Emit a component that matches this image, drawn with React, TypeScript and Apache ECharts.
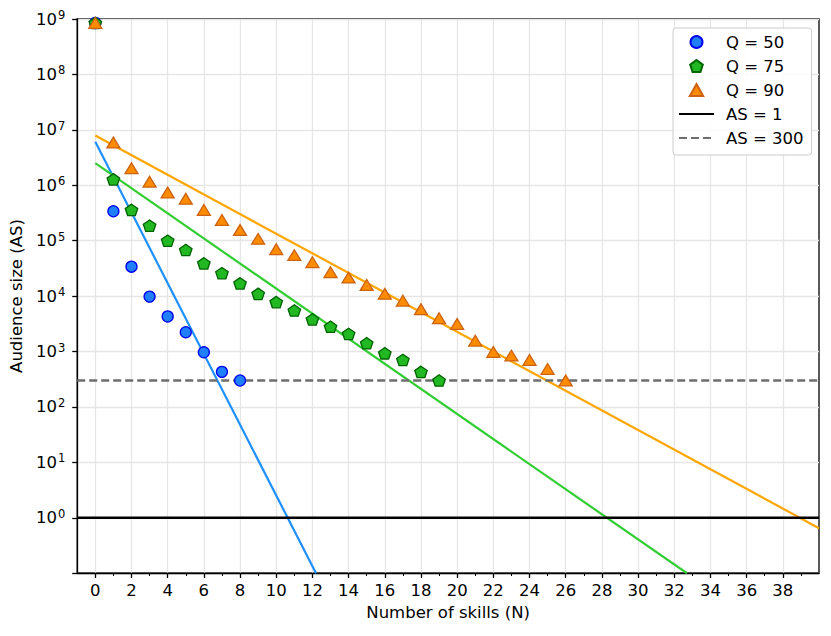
import React, { useEffect, useRef } from "react";
import * as echarts from "echarts";

// ---- data ----
const skillsQ50 = [0, 1, 2, 3, 4, 5, 6, 7, 8];
const sizesQ50 = [8.5e8, 3.4e5, 3.4e4, 9.8e3, 4.3e3, 2.23e3, 970, 430, 300];

const skillsQ75 = [0, 1, 2, 3, 4, 5, 6, 7, 8, 9, 10, 11, 12, 13, 14, 15, 16, 17, 18, 19];
const sizesQ75 = [
  8.5e8, 1.28e6, 3.6e5, 1.87e5, 1.0e5, 6.8e4, 3.9e4, 2.6e4, 1.7e4, 1.1e4, 7.8e3, 5.5e3,
  3.8e3, 2.8e3, 2.08e3, 1.41e3, 930, 706, 430, 300,
];

const skillsQ90 = [
  0, 1, 2, 3, 4, 5, 6, 7, 8, 9, 10, 11, 12, 13, 14, 15, 16, 17, 18, 19, 20, 21, 22, 23, 24, 25, 26,
];
const sizesQ90 = [
  8.5e8, 5.9e6, 2.03e6, 1.16e6, 7.4e5, 5.7e5, 3.6e5, 2.37e5, 1.56e5, 1.08e5, 7.0e4, 5.5e4,
  4.1e4, 2.7e4, 2.16e4, 1.59e4, 1.1e4, 8.3e3, 5.8e3, 4.0e3, 3.15e3, 1.57e3, 986, 845, 706, 486,
  300,
];

// fitted exponential lines: end points [N, AS]
const fitQ50 = [[0, 6.1e6], [12.2, 0.1]];
const fitQ75 = [[0, 2.5e6], [32.7, 0.1]];
const fitQ90 = [[0, 7.9e6], [40, 0.65]];

// reference levels
const asLevels = [1, 300];
const asNames = ["AS = 1", "AS = 300"];

// axes
const xRange = [-1, 40];
const yRange = [0.101, 1e9];
const xTickValues = [0, 2, 4, 6, 8, 10, 12, 14, 16, 18, 20, 22, 24, 26, 28, 30, 32, 34, 36, 38];
const xMinorTicks = [1, 3, 5, 7, 9, 11, 13, 15, 17, 19, 21, 23, 25, 27, 29, 31, 33, 35, 37, 39];

const FONT = "DejaVu Sans";
const FS = 16.5;
const PENTAGON = "path://M0,-1L0.951,-0.309L0.588,0.809L-0.588,0.809L-0.951,-0.309Z";
const TRIANGLE = "path://M0,-1L1,0.8L-1,0.8Z";

export default function App() {
  const ref = useRef<HTMLDivElement>(null);

  useEffect(() => {
    if (!ref.current) return;
    const chart = echarts.init(ref.current, undefined, { renderer: "svg" });

    const pts = (xs: number[], ys: number[]) => xs.map((x, i) => [x, ys[i]]);
    const fitLine = (name: string, data: number[][], color: string) => ({
      name,
      type: "line",
      data,
      symbol: "none",
      clip: true,
      silent: true,
      z: 2,
      lineStyle: { color, width: 2.2 },
    });

    const option: any = {
      animation: false,
      textStyle: { fontFamily: FONT },
      grid: {
        left: 76,
        right: 12,
        top: 19,
        bottom: 63,
        show: true,
        borderColor: "#000",
        borderWidth: 1.3,
        backgroundColor: "transparent",
      },
      legend: {
        orient: "vertical",
        left: 673,
        top: 28,
        padding: [5, 8, 8, 5],
        itemWidth: 35,
        itemHeight: 12,
        itemGap: 6,
        borderColor: "#cccccc",
        borderWidth: 1,
        borderRadius: 3,
        backgroundColor: "rgba(255,255,255,0.85)",
        textStyle: {
          fontFamily: FONT,
          fontSize: FS,
          color: "#000",
          lineHeight: 18,
          padding: [0, 0, 0, 7],
        },
        data: [
          { name: "Q = 50", icon: "circle" },
          { name: "Q = 75", icon: PENTAGON },
          { name: "Q = 90", icon: TRIANGLE },
          { name: asNames[0], itemStyle: { opacity: 0 } },
          { name: asNames[1], itemStyle: { opacity: 0 } },
        ],
      },
      xAxis: [
        {
          type: "value",
          min: xRange[0],
          max: xRange[1],
          position: "bottom",
          name: "Number of skills (N)",
          nameLocation: "middle",
          nameGap: 30,
          nameTextStyle: { fontFamily: FONT, fontSize: FS, color: "#000" },
          axisLine: { show: true, onZero: false, lineStyle: { color: "#000", width: 1.3 } },
          axisTick: {
            show: true,
            customValues: xTickValues,
            length: 5,
            lineStyle: { color: "#000", width: 1.3 },
          },
          axisLabel: {
            customValues: xTickValues,
            margin: 9,
            fontFamily: FONT,
            fontSize: FS,
            color: "#000",
          },
          splitLine: { show: true, lineStyle: { color: "#e6e6e6", width: 1.3 } },
        },
        {
          type: "value",
          min: xRange[0],
          max: xRange[1],
          position: "bottom",
          axisLine: { show: false, onZero: false },
          axisTick: {
            show: true,
            customValues: xMinorTicks,
            length: 3,
            lineStyle: { color: "#000", width: 1 },
          },
          axisLabel: { show: false },
          splitLine: { show: false },
        },
      ],
      yAxis: {
        type: "log",
        logBase: 10,
        min: yRange[0],
        max: yRange[1],
        position: "left",
        name: "Audience size (AS)",
        nameLocation: "middle",
        nameGap: 48,
        nameTextStyle: { fontFamily: FONT, fontSize: FS, color: "#000" },
        axisLine: { show: true, onZero: false, lineStyle: { color: "#000", width: 1.3 } },
        axisTick: { show: true, length: 5, lineStyle: { color: "#000", width: 1.3 } },
        minorTick: { show: false },
        axisLabel: {
          margin: 12,
          formatter: (v: number) => {
            if (v < 0.5) return "";
            const e = Math.round(Math.log10(v));
            return `{b|10}{e|${e}}`;
          },
          rich: {
            b: { fontFamily: FONT, fontSize: FS, color: "#000", lineHeight: 20 },
            e: {
              fontFamily: FONT,
              fontSize: 11.5,
              color: "#000",
              lineHeight: 13,
              verticalAlign: "top",
              padding: [0, 0, 0, 1],
            },
          },
        },
        splitLine: { show: true, lineStyle: { color: "#e6e6e6", width: 1.3 } },
      },
      series: [
        fitLine("fit Q = 50", fitQ50, "#1e90ff"),
        fitLine("fit Q = 75", fitQ75, "#32cd32"),
        fitLine("fit Q = 90", fitQ90, "#ffa500"),
        {
          name: asNames[0],
          type: "line",
          data: xRange.map((x) => [x, asLevels[0]]),
          symbol: "none",
          silent: true,
          z: 3,
          itemStyle: { color: "#000" },
          lineStyle: { color: "#000", width: 2.5 },
        },
        {
          name: asNames[1],
          type: "line",
          data: xRange.map((x) => [x, asLevels[1]]),
          symbol: "none",
          silent: true,
          z: 3,
          itemStyle: { color: "#6e6e6e" },
          lineStyle: { color: "#6e6e6e", width: 2.5, type: [8, 4] },
        },
        {
          name: "Q = 50",
          type: "scatter",
          data: pts(skillsQ50, sizesQ50),
          symbol: "circle",
          symbolSize: 11,
          z: 5,
          itemStyle: { color: "#1f7fff", borderColor: "#0000ee", borderWidth: 1.3, opacity: 1 },
        },
        {
          name: "Q = 75",
          type: "scatter",
          data: pts(skillsQ75, sizesQ75),
          symbol: PENTAGON,
          symbolKeepAspect: true,
          symbolSize: [12.5, 12],
          z: 5,
          itemStyle: { color: "#22b822", borderColor: "#006400", borderWidth: 1.3, opacity: 1 },
        },
        {
          name: "Q = 90",
          type: "scatter",
          data: pts(skillsQ90, sizesQ90),
          symbol: TRIANGLE,
          symbolKeepAspect: true,
          symbolSize: [13, 12],
          z: 5,
          itemStyle: { color: "#ff8c00", borderColor: "#cc6314", borderWidth: 1.3, opacity: 1 },
        },
      ],
    };

    chart.setOption(option);
    return () => chart.dispose();
  }, []);

  return (
    <div
      ref={ref}
      style={{ position: "absolute", left: 0, top: 0, width: 831, height: 636, background: "#fff" }}
    />
  );
}
